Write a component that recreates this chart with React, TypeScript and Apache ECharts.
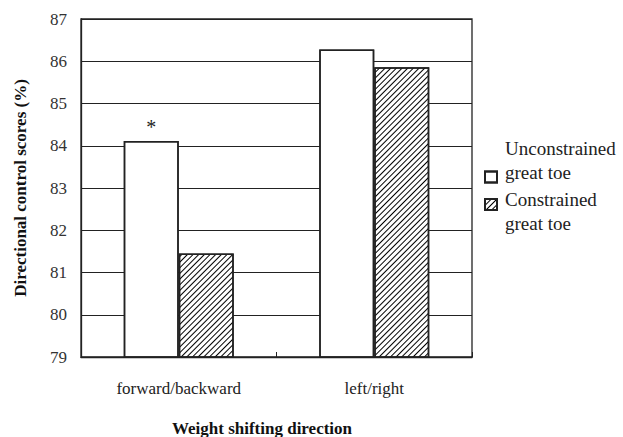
import React, { useEffect, useRef } from "react";
import * as echarts from "echarts";

const categories = ["forward/backward", "left/right"];
const unconstrained = [84.11, 86.28];
const constrained = [81.45, 85.86];
const seriesNames = ["Unconstrained\ngreat toe", "Constrained\ngreat toe"];
const yMin = 79;
const yMax = 87;
const FONT = '"Liberation Serif", "Times New Roman", serif';

export default function App() {
  const ref = useRef<HTMLDivElement>(null);
  useEffect(() => {
    if (!ref.current) return;
    const chart = echarts.init(ref.current, undefined, { renderer: "svg" });
    const hatch = {
      symbol: "rect",
      symbolSize: 1,
      color: "#000",
      backgroundColor: "#fff",
      dashArrayX: [1, 0],
      dashArrayY: [1, 2.4],
      rotation: -Math.PI / 4,
    };
    const legendText = {
      fontFamily: FONT,
      fontSize: 19,
      color: "#222",
      lineHeight: 24,
      padding: [0, 0, 0, 3],
      rich: {
        a: { fontFamily: FONT, fontSize: 19, color: "#222", lineHeight: 24 },
        b: { fontFamily: FONT, fontSize: 19, color: "#222", lineHeight: 34 },
        c: { fontFamily: FONT, fontSize: 19, color: "#222", lineHeight: 14 },
      },
    };
    const toRich = (n: string) =>
      n
        .split("\n")
        .map((s) => "{a|" + s + "}")
        .join("\n");
    chart.setOption({
      animation: false,
      backgroundColor: "#fff",
      aria: { enabled: true, decal: { show: true } },
      grid: {
        left: 81,
        right: 151,
        top: 19,
        bottom: 80,
        outerBoundsMode: "none",
        containLabel: false,
        show: true,
        borderColor: "#222",
        borderWidth: 1.3,
        backgroundColor: "transparent",
      },
      legend: [
        {
          data: [seriesNames[0]],
          left: 479,
          top: 131,
          itemWidth: 12,
          itemHeight: 11,
          itemGap: 0,
          icon: "rect",
          formatter: (n: string) => toRich(n) + "\n{b|\u00a0}",
          textStyle: legendText,
          selectedMode: false,
        },
        {
          data: [seriesNames[1]],
          left: 479,
          top: 166,
          itemWidth: 12,
          itemHeight: 11,
          itemGap: 0,
          icon: "rect",
          formatter: (n: string) => "{c|\u00a0}\n" + toRich(n),
          textStyle: legendText,
          selectedMode: false,
        },
      ],
      xAxis: {
        type: "category",
        data: categories,
        name: "Weight shifting direction",
        nameLocation: "middle",
        nameGap: 63,
        nameTextStyle: {
          fontFamily: FONT,
          fontSize: 17,
          fontWeight: "bold",
          color: "#111",
          padding: [0, 29, 0, 0],
        },
        axisLine: { lineStyle: { color: "#222", width: 1.3 } },
        axisTick: { show: true, inside: true, length: 5, lineStyle: { color: "#222" } },
        axisLabel: { fontFamily: FONT, fontSize: 17, color: "#222", margin: 23 },
      },
      yAxis: {
        type: "value",
        min: yMin,
        max: yMax,
        interval: 1,
        name: "Directional control scores (%)",
        nameLocation: "middle",
        nameGap: 52,
        nameTextStyle: {
          fontFamily: FONT,
          fontSize: 17,
          fontWeight: "bold",
          color: "#111",
        },
        axisLine: { show: true, lineStyle: { color: "#222", width: 1.3 } },
        axisTick: { show: false },
        axisLabel: { fontFamily: FONT, fontSize: 17, color: "#333", margin: 14 },
        splitLine: { show: true, lineStyle: { color: "#222", width: 1.2 } },
      },
      series: [
        {
          name: seriesNames[0],
          type: "bar",
          barWidth: 55,
          barGap: "0%",
          data: unconstrained.map((v, i) =>
            i === 0
              ? {
                  value: v,
                  label: {
                    show: true,
                    position: "top",
                    distance: 4,
                    formatter: "*",
                    fontFamily: FONT,
                    fontSize: 20,
                    color: "#222",
                  },
                }
              : v
          ),
          itemStyle: {
            color: "#fff",
            borderColor: "#222",
            borderWidth: 1.5,
            decal: { symbol: "none" },
          },
        },
        {
          name: seriesNames[1],
          type: "bar",
          barWidth: 55,
          data: constrained,
          itemStyle: {
            color: "#fff",
            borderColor: "#222",
            borderWidth: 1.5,
            decal: hatch,
          },
        },
      ],
    });
    return () => chart.dispose();
  }, []);
  return (
    <div
      ref={ref}
      style={{ position: "fixed", left: 0, top: 0, width: 623, height: 437 }}
    />
  );
}
